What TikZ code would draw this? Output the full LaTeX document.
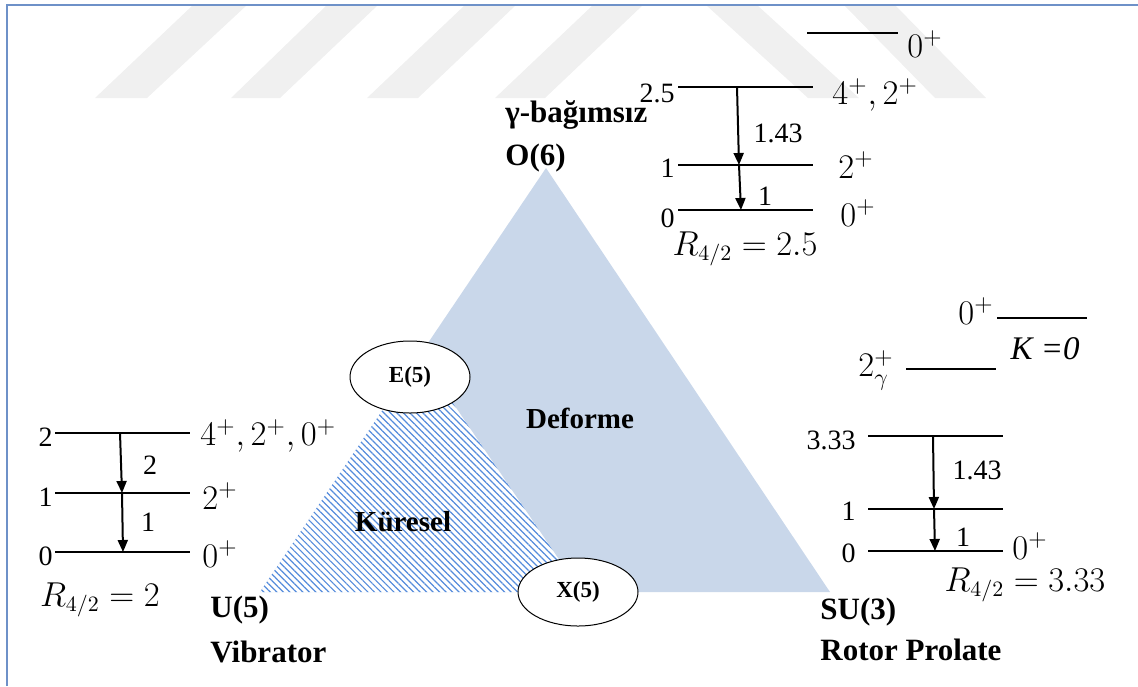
\documentclass[tikz,border=0pt]{standalone}
\usepackage{fontspec}
\setmainfont{Liberation Serif}
\usetikzlibrary{arrows.meta,shapes.geometric,patterns.meta,positioning}
\definecolor{deffill}{RGB}{201,215,234}
\definecolor{hatchblue}{RGB}{85,140,220}
\definecolor{framecol}{RGB}{110,145,200}
\definecolor{wmgray}{RGB}{240,240,240}
\tikzset{
  lvl/.style={line width=1pt},
  trans/.style={line width=1pt, -{Triangle[length=6pt,width=5pt]}},
  num/.style={font=\fontsize{14}{16}\selectfont, inner sep=1pt},
  spin/.style={font=\fontsize{17.5}{19}\selectfont, inner sep=1pt},
  ratio/.style={font=\fontsize{16}{18}\selectfont, inner sep=1pt},
  lbl/.style={font=\fontsize{15.5}{18}\selectfont\bfseries, inner sep=0pt, anchor=west},
  region/.style={font=\fontsize{14.5}{17}\selectfont\bfseries},
  limit/.style={ellipse, draw, line width=0.5pt, fill=white, minimum width=60pt,
    font=\fontsize{11.5}{13}\selectfont\bfseries},
}

\begin{document}
\begin{tikzpicture}[x=0.5pt, y=-0.5pt]
    \useasboundingbox (0,0) rectangle (1138,686);

    % watermark bands
    \fill[wmgray] (95,98) -- (147,98) -- (247,5) -- (193,5) -- cycle;
    \fill[wmgray] (231,98) -- (280,98) -- (378,5) -- (327,5) -- cycle;
    \fill[wmgray] (367,98) -- (418,98) -- (516,5) -- (465,5) -- cycle;
    \fill[wmgray] (495,98) -- (545,98) -- (643,5) -- (593,5) -- cycle;
    \fill[wmgray] (706,5) -- (757,5) -- (859,98) -- (808,98) -- cycle;
    \fill[wmgray] (844,5) -- (895,5) -- (986,98) -- (935,98) -- cycle;

    % frame
    \draw[framecol, line width=0.75pt] (7,686) -- (7,5) -- (1138,5);

    % Casten triangle
    \coordinate (o6) at (546,168);
    \coordinate (u5) at (260,592);
    \coordinate (su3) at (830,592);
    \fill[deffill] (o6) -- (u5) -- (su3) -- cycle;

    % spherical region (hatched)
    \fill[white] (u5) -- (392,396) -- (448,396) -- (581,592) -- cycle;
    \fill[pattern={Lines[angle=-45,distance=2.3pt,line width=0.6pt]}, pattern color=hatchblue]
        (u5) -- (392,396) -- (448,396) -- (581,592) -- cycle;

    % critical points
    \node[limit, minimum height=36pt] (e5) at (410,377) {E(5)};
    \node[limit, minimum height=34pt] (x5) at (578,592) {X(5)};

    % region names
    \node[region] (deforme) at (580,418) {Deforme};
    \node[region] (kuresel) at (403,522) {Küresel};

    % corner names
    \node[lbl] (o6name) at (505,158) {O(6)};
    \node[lbl] (gind) at (505,115) {γ-bağımsız};
    \node[lbl] (u5name) at (210,610) {U(5)};
    \node[lbl] (vib) at (210,652) {Vibrator};
    \node[lbl] (su3name) at (820,612) {SU(3)};
    \node[lbl] (rot) at (820,650) {Rotor Prolate};

    % U(5) levels
    \coordinate (ua2) at (55,433); \coordinate (ub2) at (190,433);
    \coordinate (ua1) at (55,493); \coordinate (ub1) at (190,493);
    \coordinate (ua0) at (55,552); \coordinate (ub0) at (190,552);
    \draw[lvl] (ua2) -- (ub2);
    \draw[lvl] (ua1) -- (ub1);
    \draw[lvl] (ua0) -- (ub0);
    \node[num, anchor=east] (ue2) at (55,437) {2};
    \node[num, anchor=east] (ue1) at (55,497) {1};
    \node[num, anchor=east] (ue0) at (55,556) {0};
    \node[spin, anchor=west] (uj2) at (198,436) {$4^+,2^+,0^+$};
    \node[spin, anchor=west] (uj1) at (200,496) {$2^+$};
    \node[spin, anchor=west] (uj0) at (200,554) {$0^+$};
    \coordinate (ut2) at (120,433); \coordinate (ut1) at (122,493); \coordinate (ut0) at (123,552);
    \draw[trans] (ut2) -- (ut1);
    \draw[trans] (ut1) -- (ut0);
    \node[num] (ub21) at (150,465) {2};
    \node[num] (ub10) at (148,522) {1};
    \node[ratio] (ur) at (100,600) {$R_{4/2}=2$};

    % O(6) levels
    \coordinate (oa3) at (807,33); \coordinate (ob3) at (898,33);
    \coordinate (oa2) at (678,87); \coordinate (ob2) at (813,87);
    \coordinate (oa1) at (678,165); \coordinate (ob1) at (813,165);
    \coordinate (oa0) at (678,210); \coordinate (ob0) at (813,210);
    \draw[lvl] (oa3) -- (ob3);
    \draw[lvl] (oa2) -- (ob2);
    \draw[lvl] (oa1) -- (ob1);
    \draw[lvl] (oa0) -- (ob0);
    \node[num, anchor=east] (oe2) at (677,93) {2.5};
    \node[num, anchor=east] (oe1) at (677,168) {1};
    \node[num, anchor=east] (oe0) at (677,218) {0};
    \node[spin, anchor=west] (oj3) at (905,44) {$0^+$};
    \node[spin, anchor=west] (oj2) at (830,95) {$4^+,2^+$};
    \node[spin, anchor=west] (oj1) at (836,165) {$2^+$};
    \node[spin, anchor=west] (oj0) at (838,213) {$0^+$};
    \coordinate (ot2) at (737,87); \coordinate (ot1) at (739,165); \coordinate (ot0) at (741,210);
    \draw[trans] (ot2) -- (ot1);
    \draw[trans] (ot1) -- (ot0);
    \node[num] (ob21) at (778,133) {1.43};
    \node[num] (ob10) at (765,196) {1};
    \node[ratio] (orat) at (745,249) {$R_{4/2}=2.5$};

    % SU(3) levels
    \coordinate (sa4) at (997,318); \coordinate (sb4) at (1087,318);
    \coordinate (sa3) at (906,369); \coordinate (sb3) at (996,369);
    \coordinate (sa2) at (868,436); \coordinate (sb2) at (1003,436);
    \coordinate (sa1) at (868,509); \coordinate (sb1) at (1003,509);
    \coordinate (sa0) at (868,551); \coordinate (sb0) at (1003,551);
    \draw[lvl] (sa4) -- (sb4);
    \draw[lvl] (sa3) -- (sb3);
    \draw[lvl] (sa2) -- (sb2);
    \draw[lvl] (sa1) -- (sb1);
    \draw[lvl] (sa0) -- (sb0);
    \node[spin, anchor=east] (sj4) at (996,311) {$0^+$};
    \node[num, font=\fontsize{16.5}{18}\selectfont\itshape] (kband) at (1045,349) {K =0};
    \node[spin, anchor=east] (sj3) at (896,370) {$2^+_\gamma$};
    \node[num, anchor=east] (se2) at (858,440) {3.33};
    \node[num, anchor=east] (se1) at (858,511) {1};
    \node[num, anchor=east] (se0) at (858,553) {0};
    \node[spin, anchor=west] (sj0) at (1010,546) {$0^+$};
    \coordinate (st2) at (933,436); \coordinate (st1) at (934,509); \coordinate (st0) at (935,551);
    \draw[trans] (st2) -- (st1);
    \draw[trans] (st1) -- (st0);
    \node[num] (sb21) at (977,470) {1.43};
    \node[num] (sb10) at (963,537) {1};
    \node[ratio] (srat) at (1025,585) {$R_{4/2}=3.33$};
\end{tikzpicture}
\end{document}
